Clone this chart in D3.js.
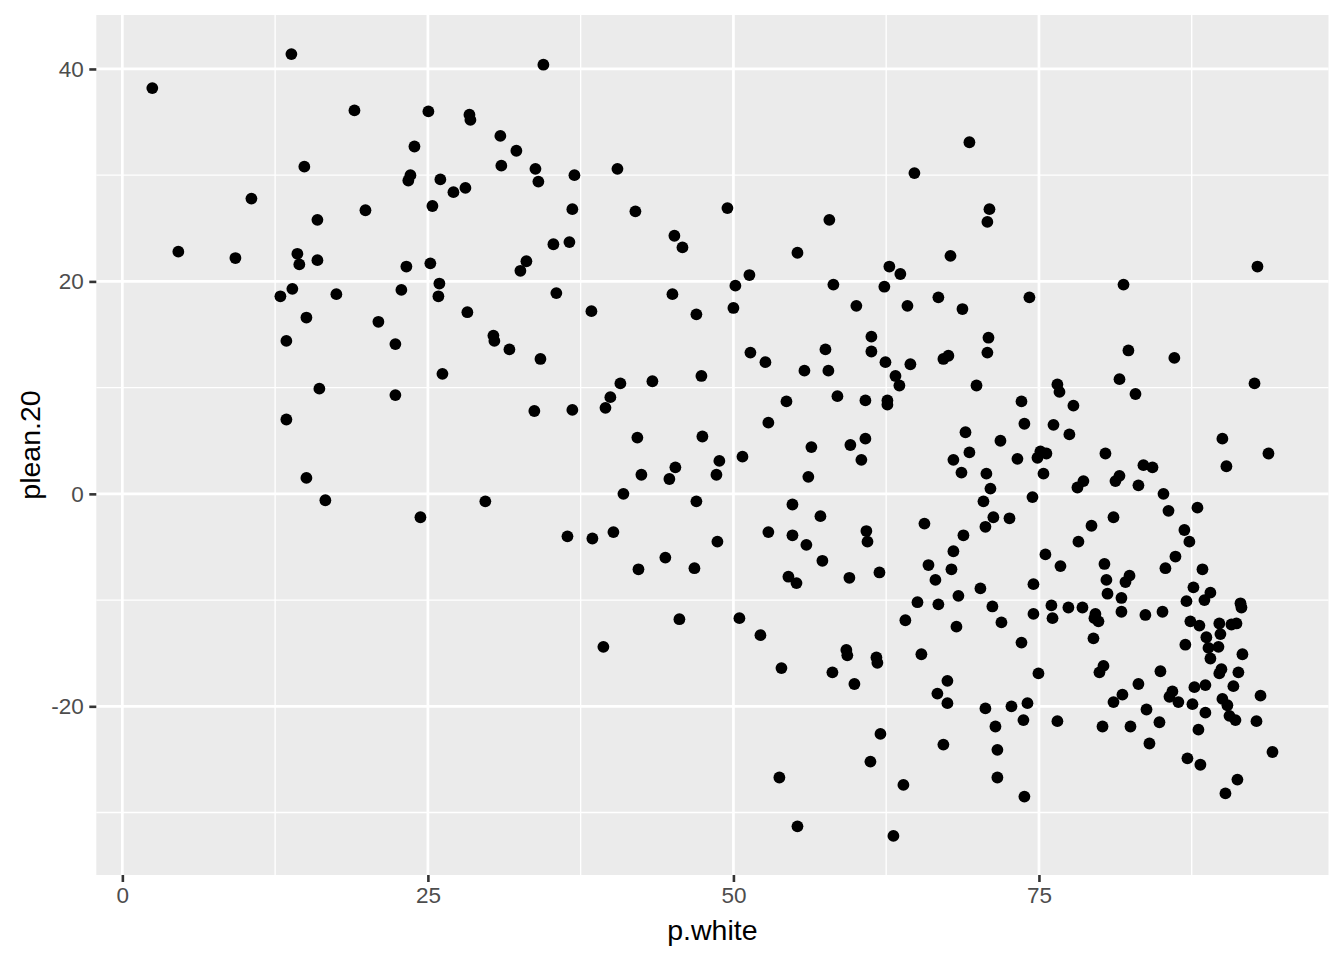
<!DOCTYPE html>
<html>
<head>
<meta charset="utf-8">
<script src="https://cdn.jsdelivr.net/npm/d3@7"></script>
<style>
  html, body { margin: 0; padding: 0; background: #ffffff; }
  svg { display: block; }
</style>
</head>
<body>
<svg id="chart" width="1344" height="960"></svg>
<script>
// ---- data ----
const pWhite = [
  2.45, 4.58, 9.25, 10.56, 12.93, 13.42, 13.42, 13.83, 13.91, 14.32,
  14.48, 14.89, 15.06, 15.06, 15.96, 15.96, 16.12, 16.61, 17.51, 18.99,
  19.89, 20.95, 22.34, 22.34, 22.83, 23.24, 23.40, 23.57, 23.90, 24.39,
  25.04, 25.20, 25.37, 25.86, 25.94, 26.02, 26.19, 27.09, 28.07, 28.23,
  28.40, 28.48, 29.70, 30.36, 30.44, 30.93, 31.01, 31.67, 32.24, 32.57,
  33.06, 33.71, 33.80, 34.04, 34.21, 34.45, 35.27, 35.51, 36.42, 36.58,
  36.82, 36.82, 36.99, 38.38, 38.46, 39.36, 39.53, 39.93, 40.18, 40.51,
  40.75, 41.00, 41.98, 42.14, 42.23, 42.47, 43.37, 44.43, 44.76, 45.01,
  45.17, 45.25, 45.58, 45.83, 46.81, 46.97, 46.97, 47.38, 47.46, 48.61,
  48.69, 48.85, 49.51, 50.00, 50.16, 50.49, 50.74, 51.31, 51.39, 52.21,
  52.62, 52.86, 52.86, 53.76, 53.93, 54.34, 54.50, 54.83, 54.83, 55.16,
  55.24, 55.24, 55.81, 55.97, 56.13, 56.38, 57.12, 57.28, 57.53, 57.77,
  57.85, 58.10, 58.18, 58.51, 59.24, 59.32, 59.49, 59.57, 59.90, 60.06,
  60.47, 60.80, 60.80, 60.88, 60.97, 61.21, 61.29, 61.29, 61.70, 61.78,
  61.95, 62.03, 62.44, 62.35, 62.60, 62.60, 62.76, 63.09, 63.26, 63.58,
  63.66, 63.91, 64.07, 64.24, 64.48, 64.81, 65.06, 65.38, 65.63, 65.96,
  66.53, 66.69, 66.77, 66.77, 67.18, 67.18, 67.51, 67.51, 67.59, 67.76,
  67.84, 68.00, 68.00, 68.25, 68.41, 68.66, 68.74, 68.82, 68.99, 69.31,
  69.31, 69.89, 70.21, 70.46, 70.62, 70.62, 70.70, 70.78, 70.87, 70.78,
  70.95, 71.03, 71.19, 71.27, 71.44, 71.60, 71.60, 71.85, 71.93, 72.59,
  72.75, 73.24, 73.57, 73.57, 74.06, 73.73, 73.81, 73.81, 74.22, 74.47,
  74.55, 74.55,
  74.88, 75.12, 74.96, 75.37, 75.53, 75.61,
  76.02, 76.11, 76.19, 76.51, 76.51, 76.68, 76.76, 77.41, 77.49, 77.82,
  78.15, 78.23, 78.56, 78.64, 79.30, 79.46, 79.54, 79.62, 79.87, 79.95,
  80.20, 80.28, 80.36, 80.44, 80.52, 80.61, 81.10, 81.10, 81.26, 81.59,
  81.59, 81.75, 81.75, 81.83, 81.92, 82.08, 82.32, 82.41, 82.49, 82.90,
  83.14, 83.14, 83.55, 83.71, 83.80, 84.04, 84.29, 84.86, 84.94, 85.11,
  85.19, 85.35, 85.60,
  85.92, 85.68, 86.41, 86.08, 86.17,
  86.90, 86.98, 87.07, 87.15, 87.31, 87.39, 87.56, 87.64, 87.72, 87.97,
  88.05, 88.13, 88.21, 88.38, 88.54, 88.62, 88.62, 88.70, 88.87, 89.03,
  89.03, 89.69, 89.76, 89.76, 89.85, 89.93, 90.01, 90.01, 90.26, 90.34,
  90.42, 90.59, 90.75, 90.91, 91.08, 91.16, 91.24, 91.32, 91.49, 91.57,
  91.65, 92.64, 92.80, 92.88, 93.13, 93.78, 94.11
];

const plean20 = [
  38.2, 22.8, 22.2, 27.8, 18.6, 14.4, 7.0, 41.4, 19.3, 22.6,
  21.6, 30.8, 16.6, 1.5, 25.8, 22.0, 9.9, -0.6, 18.8, 36.1,
  26.7, 16.2, 14.1, 9.3, 19.2, 21.4, 29.5, 30.0, 32.7, -2.2,
  36.0, 21.7, 27.1, 18.6, 19.8, 29.6, 11.3, 28.4, 28.8, 17.1,
  35.7, 35.2, -0.7, 14.9, 14.4, 33.7, 30.9, 13.6, 32.3, 21.0,
  21.9, 7.8, 30.6, 29.4, 12.7, 40.4, 23.5, 18.9, -4.0, 23.7,
  26.8, 7.9, 30.0, 17.2, -4.2, -14.4, 8.1, 9.1, -3.6, 30.6,
  10.4, 0.0, 26.6, 5.3, -7.1, 1.8, 10.6, -6.0, 1.4, 18.8,
  24.3, 2.5, -11.8, 23.2, -7.0, -0.7, 16.9, 11.1, 5.4, 1.8,
  -4.5, 3.1, 26.9, 17.5, 19.6, -11.7, 3.5, 20.6, 13.3, -13.3,
  12.4, -3.6, 6.7, -26.7, -16.4, 8.7, -7.8, -1.0, -3.9, -8.4,
  22.7, -31.3, 11.6, -4.8, 1.6, 4.4, -2.1, -6.3, 13.6, 11.6,
  25.8, -16.8, 19.7, 9.2, -14.7, -15.2, -7.9, 4.6, -17.9, 17.7,
  3.2, 8.8, 5.2, -3.5, -4.5, -25.2, 14.8, 13.4, -15.4, -15.9,
  -7.4, -22.6, 12.4, 19.5, 8.8, 8.4, 21.4, -32.2, 11.1, 10.2,
  20.7, -27.4, -11.9, 17.7, 12.2, 30.2, -10.2, -15.1, -2.8, -6.7,
  -8.1, -18.8, 18.5, -10.4, 12.7, -23.6, -17.6, -19.7, 13.0, 22.4,
  -7.1, 3.2, -5.4, -12.5, -9.6, 2.0, 17.4, -3.9, 5.8, 3.9,
  33.1, 10.2, -8.9, -0.7, -20.2, -3.1, 1.9, 13.3, 14.7, 25.6,
  26.8, 0.5, -10.6, -2.2, -21.9, -24.1, -26.7, 5.0, -12.1, -2.3,
  -20.0, 3.3, 8.7, -14.0, -19.7, -21.3, 6.6, -28.5, 18.5, -0.3,
  -8.5, -11.3,
  3.4, 4.0, -16.9, 1.9, -5.7, 3.8,
  -10.5, -11.7, 6.5, -21.4, 10.3, 9.6, -6.8, -10.7, 5.6, 8.3,
  0.6, -4.5, -10.7, 1.2, -3.0, -13.6, -11.7, -11.3, -12.0, -16.8,
  -21.9, -16.2, -6.6, 3.8, -8.1, -9.4, -2.2, -19.6, 1.2, 10.8,
  1.7, -9.8, -11.1, -18.9, 19.7, -8.3, 13.5, -7.7, -21.9, 9.4,
  0.8, -17.9, 2.7, -11.4, -20.3, -23.5, 2.5, -21.5, -16.7, -11.1,
  0.0, -7.0, -1.6,
  -18.6, -19.1, -19.6, 12.8, -5.9,
  -3.4, -14.2, -10.1, -24.9, -4.5, -12.0, -19.8, -8.8, -18.2, -1.3,
  -22.2, -12.4, -25.5, -7.1, -10.0, -20.6, -18.0, -13.5, -14.5, -9.3,
  -15.5, -14.4, -12.2, -16.9, -13.2, -16.5, -19.3, 5.2, -28.2, 2.6,
  -19.9, -20.9, -12.3, -18.1, -21.3, -12.2, -26.9, -16.8, -10.3, -10.7,
  -15.1, 10.4, -21.4, 21.4, -19.0, 3.8, -24.3
];

const xTicks = [0, 25, 50, 75];
const yTicks = [-20, 0, 20, 40];
const xTitle = "p.white";
const yTitle = "plean.20";

// ---- layout ----
const panel = { left: 96.3, right: 1328.5, top: 15, bottom: 875 };
const font = "'Liberation Sans', Arial, Helvetica, sans-serif";

const points = pWhite.map((v, i) => ({ x: v, y: plean20[i] }));

function expanded(ext) {
  const pad = (ext[1] - ext[0]) * 0.05;
  return [ext[0] - pad, ext[1] + pad];
}

const x = d3.scaleLinear()
  .domain(expanded(d3.extent(pWhite)))
  .range([panel.left, panel.right]);
const y = d3.scaleLinear()
  .domain(expanded(d3.extent(plean20)))
  .range([panel.bottom, panel.top]);

function minorOf(ticks, scale) {
  const step = ticks[1] - ticks[0];
  const dom = scale.domain();
  const out = [];
  for (let v = ticks[0] - step / 2; v <= dom[1]; v += step) {
    if (v >= dom[0] && v <= dom[1]) out.push(v);
  }
  return out;
}

const svg = d3.select("#chart");
svg.append("rect").attr("width", 1344).attr("height", 960).attr("fill", "#ffffff");

svg.append("rect")
  .attr("x", panel.left).attr("y", panel.top)
  .attr("width", panel.right - panel.left)
  .attr("height", panel.bottom - panel.top)
  .attr("fill", "#EBEBEB");

const grid = svg.append("g");
// minor grid
grid.selectAll("line.xminor").data(minorOf(xTicks, x)).join("line")
  .attr("x1", d => x(d)).attr("x2", d => x(d))
  .attr("y1", panel.top).attr("y2", panel.bottom)
  .attr("stroke", "#ffffff").attr("stroke-width", 1.35);
grid.selectAll("line.yminor").data(minorOf(yTicks, y)).join("line")
  .attr("y1", d => y(d)).attr("y2", d => y(d))
  .attr("x1", panel.left).attr("x2", panel.right)
  .attr("stroke", "#ffffff").attr("stroke-width", 1.35);
// major grid
grid.selectAll("line.xmajor").data(xTicks).join("line")
  .attr("x1", d => x(d)).attr("x2", d => x(d))
  .attr("y1", panel.top).attr("y2", panel.bottom)
  .attr("stroke", "#ffffff").attr("stroke-width", 2.7);
grid.selectAll("line.ymajor").data(yTicks).join("line")
  .attr("y1", d => y(d)).attr("y2", d => y(d))
  .attr("x1", panel.left).attr("x2", panel.right)
  .attr("stroke", "#ffffff").attr("stroke-width", 2.7);

// points
svg.append("g").selectAll("circle").data(points).join("circle")
  .attr("cx", d => x(d.x))
  .attr("cy", d => y(d.y))
  .attr("r", 5.9)
  .attr("fill", "#000000");

// axes
const fmt = d => String(d);
const xAxis = svg.append("g")
  .attr("transform", `translate(0,${panel.bottom})`)
  .call(d3.axisBottom(x).tickValues(xTicks).tickFormat(fmt).tickSize(7).tickPadding(5.5));
const yAxis = svg.append("g")
  .attr("transform", `translate(${panel.left},0)`)
  .call(d3.axisLeft(y).tickValues(yTicks).tickFormat(fmt).tickSize(7).tickPadding(5.5));

[xAxis, yAxis].forEach(g => {
  g.select(".domain").remove();
  g.selectAll(".tick line").attr("stroke", "#333333").attr("stroke-width", 2.6);
  g.selectAll(".tick text")
    .attr("fill", "#4D4D4D")
    .style("font-family", font)
    .style("font-size", "22.5px");
});

// titles
svg.append("text")
  .attr("x", (panel.left + panel.right) / 2)
  .attr("y", 940)
  .attr("text-anchor", "middle")
  .style("font-family", font)
  .style("font-size", "28.5px")
  .attr("fill", "#000000")
  .text(xTitle);

svg.append("text")
  .attr("transform", `translate(40,${(panel.top + panel.bottom) / 2}) rotate(-90)`)
  .attr("text-anchor", "middle")
  .style("font-family", font)
  .style("font-size", "28.5px")
  .attr("fill", "#000000")
  .text(yTitle);
</script>
</body>
</html>
